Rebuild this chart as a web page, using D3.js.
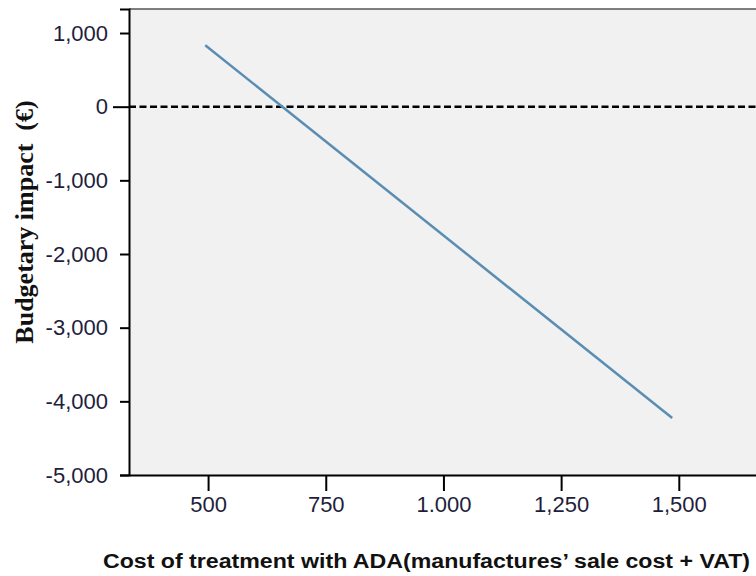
<!DOCTYPE html>
<html>
<head>
<meta charset="utf-8">
<script src="https://cdn.jsdelivr.net/npm/d3@7"></script>
<style>
  body { margin: 0; background: #fff; }
  svg { display: block; }
</style>
</head>
<body>
<svg id="chart"></svg>
<script>
// Budget impact vs cost of ADA treatment
const costs = [494, 1486];
const impacts = [834, -4227];

const xTicks = [500, 750, 1000, 1250, 1500];
const xTickLabels = ["500", "750", "1.000", "1,250", "1,500"];
const yTicks = [1000, 0, -1000, -2000, -3000, -4000, -5000];
const yTickLabels = ["1,000", "0", "-1,000", "-2,000", "-3,000", "-4,000", "-5,000"];

const width = 756;
const height = 576;
const plot = { left: 129, top: 9, right: 756, bottom: 475 };

const svg = d3.select("#chart")
    .attr("width", width)
    .attr("height", height);

const x = d3.scaleLinear().domain([332, 1664]).range([plot.left, plot.right]);
const y = d3.scaleLinear().domain([-5000, 1326]).range([plot.bottom, plot.top]);

// plot background
svg.append("rect")
    .attr("x", plot.left)
    .attr("y", plot.top)
    .attr("width", plot.right - plot.left)
    .attr("height", plot.bottom - plot.top)
    .attr("fill", "#f1f1f1");

// top border
svg.append("line")
    .attr("x1", plot.left).attr("x2", plot.right)
    .attr("y1", plot.top).attr("y2", plot.top)
    .attr("stroke", "#555").attr("stroke-width", 1.5);

const tickColor = "#1e1e3c";

// y axis
const yAxis = svg.append("g")
    .attr("transform", `translate(${plot.left},0)`)
    .call(d3.axisLeft(y)
        .tickValues(yTicks)
        .tickSize(9)
        .tickPadding(5)
        .tickFormat((d, i) => yTickLabels[i]));
yAxis.select(".domain").attr("stroke", "#000").attr("stroke-width", 2);
yAxis.selectAll(".tick line").attr("stroke", "#000").attr("stroke-width", 2);
yAxis.selectAll(".tick").filter(d => d === 0).select("line").attr("x2", -16);
yAxis.selectAll(".tick text")
    .attr("font-family", "Liberation Sans, Arial, sans-serif")
    .attr("font-size", 22)
    .attr("fill", tickColor)
    .attr("x", -21);

// x axis
const xAxis = svg.append("g")
    .attr("transform", `translate(0,${plot.bottom})`)
    .call(d3.axisBottom(x)
        .tickValues(xTicks)
        .tickSize(16)
        .tickPadding(5)
        .tickSizeOuter(0)
        .tickFormat((d, i) => xTickLabels[i]));
xAxis.select(".domain").attr("stroke", "#000").attr("stroke-width", 2);
xAxis.selectAll(".tick line").attr("stroke", "#000").attr("stroke-width", 2);
xAxis.selectAll(".tick text")
    .attr("font-family", "Liberation Sans, Arial, sans-serif")
    .attr("font-size", 22)
    .attr("fill", tickColor);

// zero reference line
svg.append("line")
    .attr("x1", plot.left).attr("x2", plot.right)
    .attr("y1", y(0)).attr("y2", y(0))
    .attr("stroke", "#000")
    .attr("stroke-width", 2.5)
    .attr("stroke-dasharray", "7,3.5");

// data line
const points = costs.map((c, i) => ({ cost: c, impact: impacts[i] }));
svg.append("path")
    .datum(points)
    .attr("fill", "none")
    .attr("stroke", "#5a8db3")
    .attr("stroke-width", 2.5)
    .attr("d", d3.line().x(d => x(d.cost)).y(d => y(d.impact)));

// axis titles
svg.append("text")
    .attr("x", 103)
    .attr("y", 568)
    .attr("font-family", "Liberation Sans, Arial, sans-serif")
    .attr("font-weight", "bold")
    .attr("font-size", 20)
    .attr("textLength", 647)
    .attr("lengthAdjust", "spacingAndGlyphs")
    .attr("fill", "#111")
    .text("Cost of treatment with ADA(manufactures\u2019 sale cost + VAT)");

svg.append("text")
    .attr("transform", `translate(33,222) rotate(-90)`)
    .attr("text-anchor", "middle")
    .attr("font-family", "Liberation Serif, Times New Roman, serif")
    .attr("font-weight", "bold")
    .attr("font-size", 26)
    .attr("fill", "#111")
    .text("Budgetary impact\u00a0\u00a0(\u20ac)");
</script>
</body>
</html>
